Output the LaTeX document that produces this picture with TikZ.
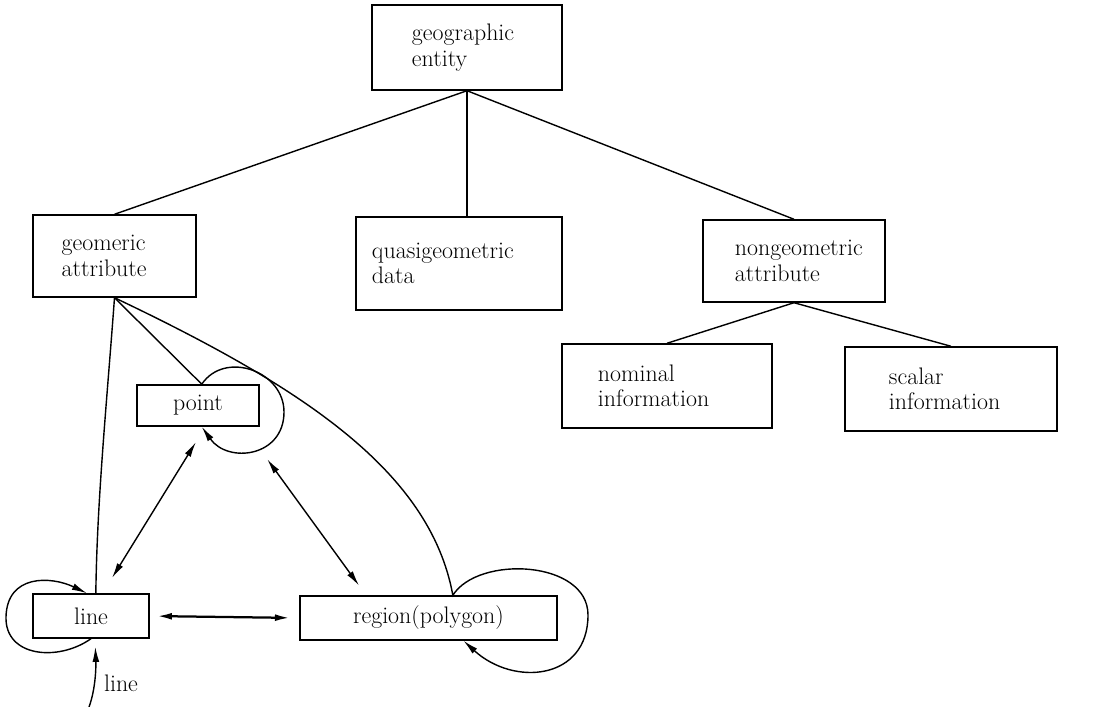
\documentclass[tikz,border=0pt]{standalone}
\usepackage{tikz}
\usetikzlibrary{positioning}
\usetikzlibrary{arrows.meta}
\tikzset{>={Latex[width=1.7mm,length=3.8mm]}}

\begin{document}
\begin{tikzpicture}[x=0.025cm, y=-0.025cm, line width=1pt, box/.style={rectangle, draw=black, align=left, font=\fontsize{17}{18}\selectfont}, smallbox/.style={rectangle, draw=black, inner sep=0pt, font=\fontsize{17}{18}\selectfont}, emptynode/.style={draw=none, fill=none, font=\fontsize{17}{18}\selectfont}]

    \useasboundingbox (0,0) rectangle (1098,707);

    %Nodes
    \node[box, inner xsep=1cm, text width=2.75cm, minimum height=2.125cm](entity) at (467,47.5){geographic\\entity};
    \node[box, inner xsep=0.72cm, text width=2.64cm, minimum height=2.05cm](geo) at (114.5,256){geomeric\\attribute};
    \node[box, inner xsep=0.4cm, text width=4.35cm, minimum height=2.33cm](quasi) at (459,263.5){quasigeometric\\data};
    \node[box, inner xsep=0.8cm, text width=2.95cm, minimum height=2.05cm](nongeo) at (794,261){nongeometric\\attribute};
    \node[box, inner xsep=0.9cm, text width=3.45cm, minimum height=2.1cm](nominal) at (667,386){nominal\\information};
    \node[box, inner xsep=1.1cm, text width=3.1cm, minimum height=2.1cm](scalar) at (951,389){scalar\\information};
    \node[smallbox, minimum width=3.05cm, minimum height=1.03cm](point) at (198,405.5){point};
    \node[smallbox, minimum width=2.9cm, minimum height=1.1cm](line) at (91,616){line};
    \node[smallbox, minimum width=6.43cm, minimum height=1.1cm](region) at (428.5,618){region(polygon)};
    \coordinate (linein) at (89,707);
    \node[emptynode](linelabel) at (121,683){line};

    %Lines
    \draw (entity.south) -- (geo.north);
    \draw (entity.south) -- (entity.south |- quasi.north);
    \draw (entity.south) -- (nongeo.north);
    \draw (nongeo.south) -- (nominal.north);
    \draw (nongeo.south) -- (scalar.north);
    \draw (geo.south) .. controls (107,400) and (97,500) .. (line.78);
    \draw[->] (geo.south) -- (point.80) .. controls (225,350) and (284,371) .. (284,412) .. controls (284,457) and (228,464) .. (point.-80);
    \draw[->] (geo.south) .. controls (300,386) and (430,470) .. (region.43) .. controls (478,555) and (588,560) .. (588,615) .. controls (588,680) and (514,687) .. (region.-33);
    \draw[->] (line.south) .. controls (58,662) and (5,657) .. (6,617) .. controls (7,574) and (51,576) .. (line.100);
    \draw[->, shorten >=2mm] (linein) .. controls (96,688) and (96,665) .. (line.-80);
    \draw[<->, shorten <=4.5mm, shorten >=4.5mm] (line.63) -- (point.-71);
    \draw[<->, shorten <=1cm, shorten >=3mm] (point.-25.5) -- (region.160);
    \draw[<->, line width=1.6pt, shorten <=1.75mm, shorten >=2.25mm] (line.east) -- (region.west);

\end{tikzpicture}
\end{document}
